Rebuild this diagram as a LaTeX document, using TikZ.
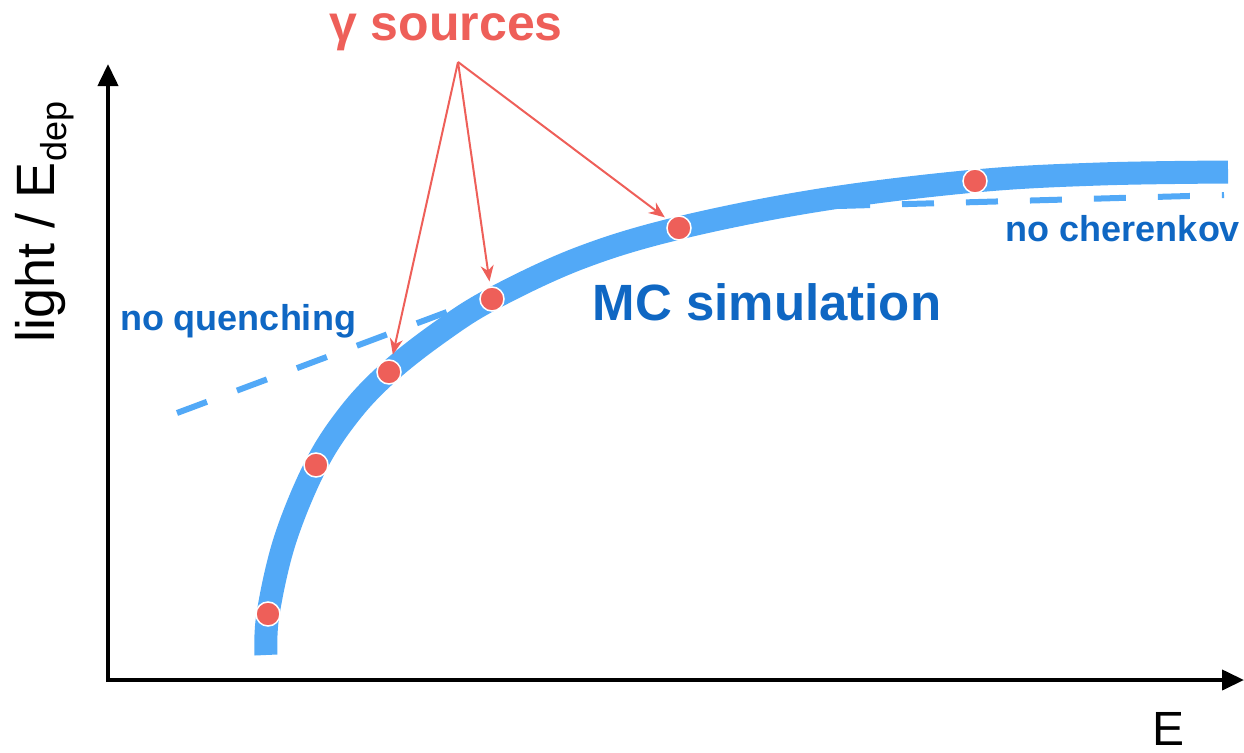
\documentclass[tikz,border=0pt]{standalone}
\usepackage{fontspec}
\setmainfont{Liberation Sans}
\usetikzlibrary{arrows.meta}
\definecolor{curveblue}{HTML}{52A9F7}
\definecolor{textblue}{HTML}{0F67C3}
\definecolor{dotred}{HTML}{EE5F59}

\begin{document}
\begin{tikzpicture}[x=1pt,y=-1pt,
  dot/.style={circle,fill=dotred,draw=white,line width=1.5pt,minimum size=24pt,inner sep=0pt},
  lbl/.style={text=textblue,font=\bfseries\fontsize{36}{40}\selectfont},
  refline/.style={curveblue,line width=6pt,dash pattern=on 32pt off 32pt},
  ptr/.style={dotred,line width=2pt,-{Stealth[length=16pt,width=13pt]},shorten >=5pt}]
\useasboundingbox (0,0) rectangle (1244,752);
% axes
\draw[line width=4pt,-{Triangle[length=22pt,width=20pt]}](108,682)--(108,64);
\draw[line width=4pt,-{Triangle[length=22pt,width=20pt]}](106,680)--(1244,680);
\node[rotate=90,font=\fontsize{54}{60}\selectfont] (ylab) at (45,222)
  {light / E\raisebox{-12pt}{\fontsize{36}{40}\selectfont dep}};
\node[anchor=base,inner sep=0pt,font=\fontsize{48}{52}\selectfont] (xlab) at (1168,745) {E};
% reference lines
\draw[refline](177,413)--(447,312);
\draw[refline](838,206)--(1224,195);
% simulated curve
\draw[curveblue,line width=23pt]plot[smooth,tension=0.6]coordinates{
 (266,655)(268,614)(285,540)(316,465)(350,413)(389,372)(440,332)(492,299)
 (580,258)(679,228)(820,200)(975,181)(1100,174)(1228,172)};
% sources
\node[dot] (s1) at (268,614) {};
\node[dot] (s2) at (316,465) {};
\node[dot] (s3) at (389,372) {};
\node[dot] (s4) at (492,299) {};
\node[dot] (s5) at (679,228) {};
\node[dot] (s6) at (975,181) {};
% labels
\node[text=dotred,font=\bfseries\fontsize{50}{56}\selectfont] (gam) at (446,32) {γ sources};
\coordinate (src) at (458,62);
\draw[ptr](src)--(s3);
\draw[ptr](src)--(s4);
\draw[ptr](src)--(s5);
\node[lbl] (nq) at (238,321) {no quenching};
\node[lbl] (nc) at (1123,229) {no cherenkov};
\node[lbl,font=\bfseries\fontsize{51}{56}\selectfont] (mc) at (767,302) {MC simulation};
\end{tikzpicture}
\end{document}
